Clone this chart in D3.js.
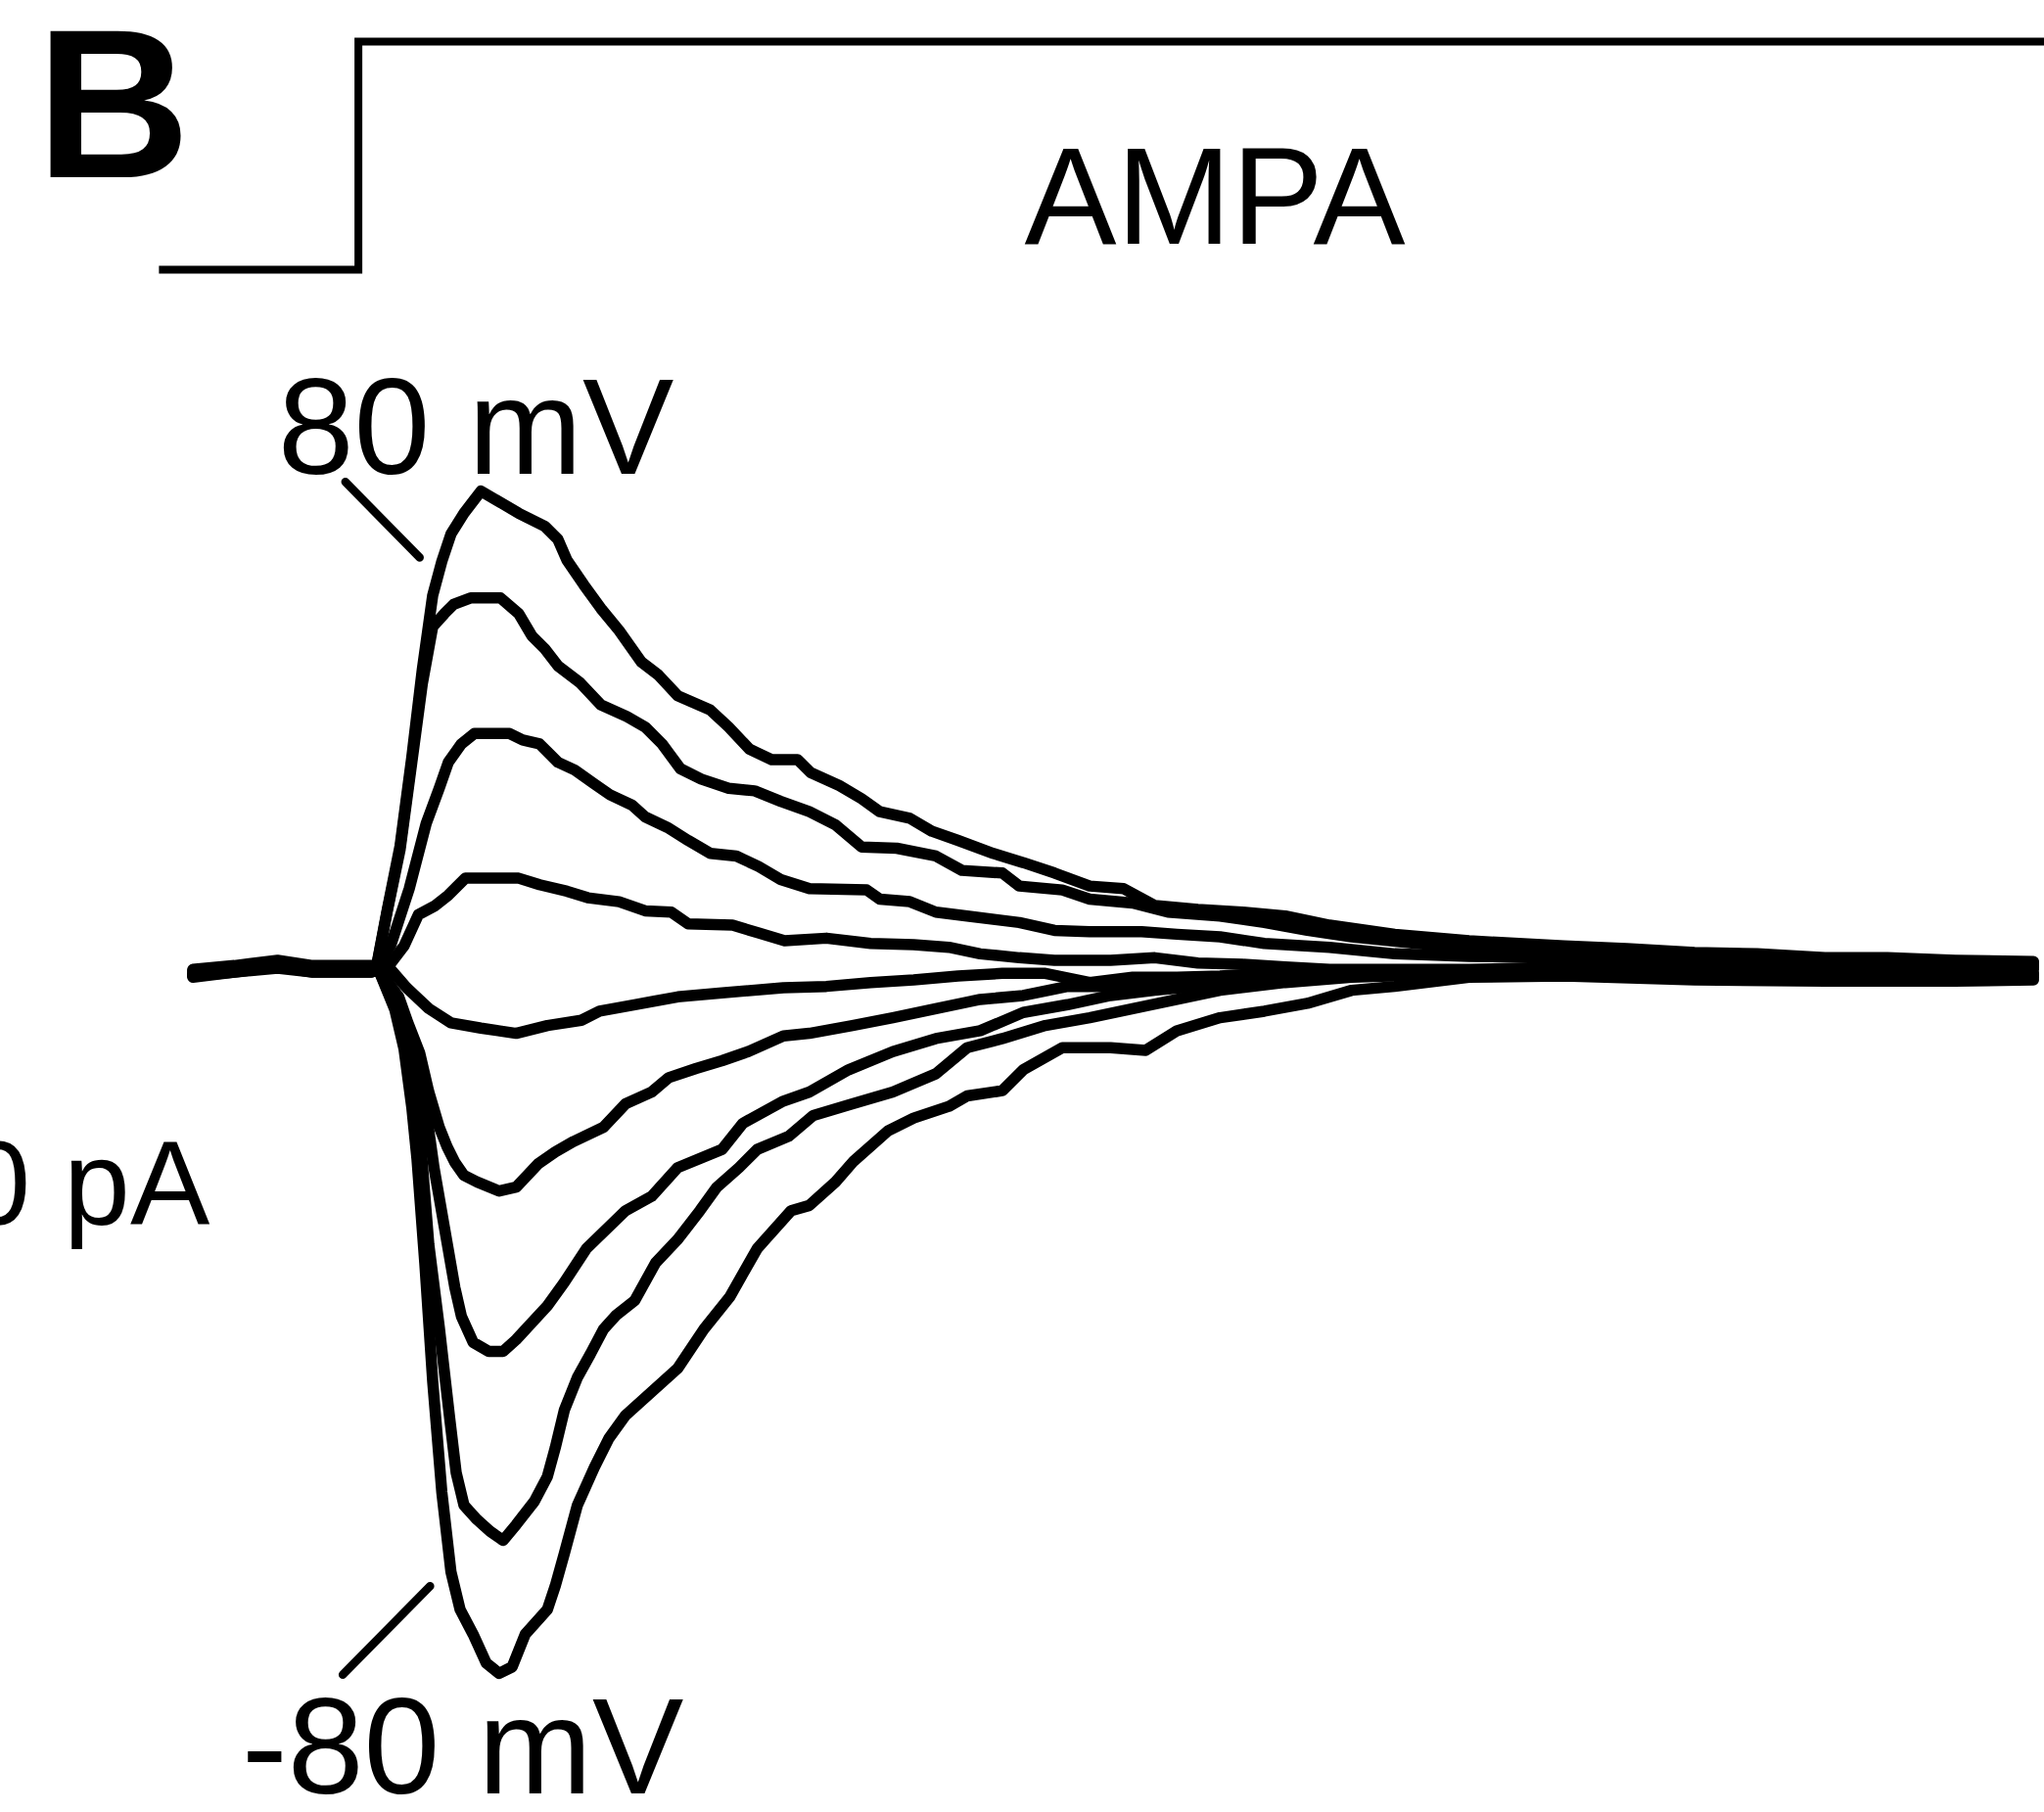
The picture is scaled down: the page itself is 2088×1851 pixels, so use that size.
<!DOCTYPE html>
<html>
<head>
<meta charset="utf-8">
<script src="https://cdn.jsdelivr.net/npm/d3@7"></script>
<style>
  html, body { margin: 0; padding: 0; background: #fff; }
  svg { display: block; }
  text { font-family: "Liberation Sans", Arial, Helvetica, sans-serif; fill: #000; }
</style>
</head>
<body>
<div id="svgDiv"></div>
<script>
////// DATA ////////
// holding potentials of the traces (mV), top to bottom
var voltages = [80, 60, 40, 20, 0, -20, -40, -60, -80];

// currents: [time (ms), current (pA)]
var trace80 = [[0,-1],[3.2,2],[6.5,6],[9.2,2],[13.7,2],[14.1,2],[14.9,44],[15.9,94],[16.8,162],[17.6,229],[18.4,286],[19.1,312],[19.8,333],[20.8,349],[22.1,366],[23.3,359],[25,349],[27,339],[28,329],[28.7,313],[30,294],[31.3,276],[32.7,259],[34.4,235],[35.7,225],[37.2,209],[39.7,198],[41.1,185],[42.7,168],[44.4,160],[46.4,160],[47.4,150],[49.6,140],[51.3,130],[52.7,120],[55,115],[56.7,105],[58.7,98],[61.4,88],[63.7,81],[66.1,73],[68.8,63],[71.4,61],[73.8,48],[77.1,45],[80.5,43],[83.8,40],[87.2,33],[92.2,26],[97.9,21],[105.2,17],[110,15],[115.2,12],[120,11],[125.2,8],[130,8],[135.2,6],[141.2,5]];
var trace60 = [[0,-2],[3.2,1],[6.5,5],[9.2,1],[13.7,1],[14.1,1],[14.9,43],[15.9,91],[16.8,158],[17.6,218],[18.4,262],[19.3,272],[20,279],[21.3,284],[23.6,284],[25,272],[26,255],[27,245],[28,232],[29.7,219],[31.3,202],[33.3,193],[34.7,185],[36,172],[37.4,153],[39,145],[41.1,138],[43.1,136],[45.1,128],[47.3,120],[49.3,110],[51.3,93],[54,92],[57,86],[59,75],[62.1,73],[63.4,63],[66.7,60],[68.8,53],[72.1,50],[74.8,43],[78.8,40],[82.2,35],[85.5,29],[88.9,24],[93.9,19],[97.9,16],[105.2,14],[115.2,10],[125.2,6],[135.2,5],[141.2,4]];
var trace40 = [[0,-3],[3.2,0],[6.5,4],[9.2,0],[13.7,0],[14.1,1],[15.2,18],[16.6,61],[17.9,111],[18.9,138],[19.6,158],[20.6,172],[21.6,180],[24.3,180],[25.3,175],[26.6,172],[28,158],[29.3,152],[30.7,142],[32,133],[33.7,125],[34.7,116],[36.4,108],[38,98],[39.7,88],[41.7,86],[43.4,78],[45.1,68],[47.3,61],[51.7,60],[52.7,53],[55,51],[57,43],[59.4,40],[63.4,35],[66.1,29],[68.8,28],[72.8,28],[75.5,26],[78.8,24],[82.2,19],[87.2,16],[92.2,11],[97.9,9],[105.2,8],[115.2,6],[125.2,4],[135.2,3],[141.2,2]];
var trace20 = [[0,-4],[3.2,0],[6.5,3],[9.2,0],[13.7,0],[14.2,1],[15.2,4],[16.2,17],[17.3,41],[18.6,48],[19.6,56],[20.9,69],[23.3,69],[25,69],[26.6,64],[28.7,59],[30.3,54],[32.7,51],[34.7,44],[36.7,43],[38,34],[41.4,33],[43.4,27],[45.4,21],[48.6,23],[52,19],[55.3,18],[58,16],[60.4,11],[63.4,8],[66.1,6],[70.4,6],[73.8,8],[77.1,4],[80.5,3],[83.8,1],[87.2,-1],[97.9,-1],[105.2,1],[115.2,2],[125.2,1],[135.2,2],[141.2,1]];
var trace0 = [[0,-5],[3.2,-1],[6.5,3],[9.2,-1],[13.7,-1],[14.2,0],[15.1,0],[16.4,-15],[18.1,-31],[19.8,-42],[22.1,-46],[24.8,-50],[27.2,-44],[29.8,-40],[31.2,-33],[33.9,-28],[37.2,-22],[40.6,-19],[45.3,-15],[48.6,-14],[52,-11],[55.3,-9],[58.7,-6],[62.1,-4],[65.4,-4],[68.8,-11],[72.1,-7],[75.5,-7],[78.8,-6],[82.2,-4],[87.2,-4],[97.9,-2],[105.2,-2],[115.2,-1],[125.2,-2],[135.2,0],[141.2,-1]];
var traceM20 = [[0,-5],[3.2,-2],[6.5,2],[9.2,-2],[13.7,-2],[14.2,0],[15.8,-22],[16.5,-42],[17.4,-65],[18.1,-95],[18.9,-122],[19.5,-137],[20.1,-149],[20.8,-159],[21.8,-164],[23.5,-171],[24.8,-168],[26.5,-150],[27.8,-141],[29.2,-133],[31.5,-122],[33.2,-104],[35.2,-95],[36.5,-84],[38.6,-77],[40.6,-71],[42.6,-64],[45.3,-52],[47.3,-50],[50.6,-44],[53.7,-38],[57,-31],[60.4,-24],[63.7,-21],[67.1,-14],[70.4,-14],[73.8,-12],[77.1,-14],[80.5,-11],[83.8,-7],[87.2,-6],[92.2,-4],[97.9,-2],[105.2,-2],[115.2,-3],[125.2,-4],[135.2,-3],[141.2,-4]];
var traceM40 = [[0,-6],[3.2,-2],[6.5,1],[9.2,-2],[13.7,-2],[14.2,0],[15.7,-29],[16.4,-52],[17,-65],[17.8,-103],[18.5,-153],[19.3,-199],[20.1,-245],[20.6,-267],[21.5,-287],[22.7,-294],[23.8,-294],[24.8,-285],[27.2,-259],[28.5,-241],[30.2,-215],[33.2,-186],[35.2,-175],[37.2,-153],[40.6,-139],[42.2,-119],[45.3,-102],[47.3,-95],[50.3,-78],[53.7,-64],[57,-54],[60.4,-48],[63.7,-34],[67.1,-28],[70.4,-21],[73.8,-17],[77.1,-14],[82.2,-9],[87.2,-7],[97.9,-4],[105.2,-3],[115.2,-5],[125.2,-6],[135.2,-6],[141.2,-5]];
var traceM60 = [[0,-6],[3.2,-3],[6.5,1],[9.2,-3],[13.7,-3],[14.2,0],[15.6,-32],[16.3,-57],[16.9,-87],[17.5,-137],[18.1,-212],[18.9,-275],[19.7,-345],[20.2,-387],[20.8,-412],[21.8,-423],[22.8,-432],[23.8,-439],[24.8,-427],[26.2,-409],[27.2,-390],[27.8,-368],[28.5,-339],[29.5,-314],[30.5,-296],[31.5,-277],[32.5,-266],[33.9,-255],[35.5,-226],[37.2,-208],[38.9,-186],[40.2,-168],[41.9,-153],[43.3,-139],[45.7,-129],[47.6,-113],[50.3,-105],[53.7,-95],[57,-81],[59.4,-61],[62.1,-54],[65.4,-44],[68.8,-38],[72.1,-31],[75.5,-24],[78.8,-17],[83.8,-11],[88.9,-7],[97.9,-4],[105.2,-4],[115.2,-6],[125.2,-8],[135.2,-8],[141.2,-7]];
var traceM80 = [[0,-7],[3.2,-3],[6.5,0],[9.2,-3],[13.7,-3],[14.2,0],[15.5,-32],[16.2,-62],[16.8,-107],[17.2,-147],[17.8,-227],[18.4,-317],[19.1,-402],[19.8,-463],[20.5,-492],[21.5,-511],[22.5,-533],[23.5,-541],[24.5,-536],[25.5,-511],[27.2,-492],[27.8,-474],[28.5,-449],[29.5,-412],[30.8,-383],[31.9,-361],[33.2,-343],[35.2,-325],[37.2,-307],[39.2,-277],[41.2,-252],[43.3,-215],[45.9,-186],[47.3,-182],[49.3,-164],[50.7,-148],[53.3,-125],[55.3,-115],[58,-106],[59.4,-98],[62.1,-94],[63.7,-78],[66.7,-61],[70.4,-61],[73.1,-63],[75.5,-48],[78.8,-38],[82.2,-33],[85.5,-27],[88.9,-17],[92.2,-14],[97.9,-7],[105.2,-6],[115.2,-9],[125.2,-10],[135.2,-10],[141.2,-9]];

var traces = [trace80, trace60, trace40, trace20, trace0, traceM20, traceM40, traceM60, traceM80];

// AMPA application step: [time (ms), level (0 off, 1 on)]
var stepTimes = [-2.6, 12.7, 12.7, 143];
var stepLevels = [0, 0, 1, 1];

// label ends for the 80 / -80 mV traces: [time, current]
var tick80 = [[11.7, 373], [17.4, 315]];
var tickM80 = [[18.2, -474], [11.5, -542]];
///////////////////////

var w = 2088;
var h = 1851;

var svg = d3.select("#svgDiv")
  .append("svg")
  .attr("width", w)
  .attr("height", h);

svg.append("rect").attr("width", w).attr("height", h).attr("fill", "#fff");

// 1 ms = 13.316 px, 1 pA = 1.3316 px, baseline at y=989
var k = 1.3316;
var xScale = d3.scaleLinear().domain([0, 141.2]).range([197, 197 + 141.2 * 10 * k]);
var yScale = d3.scaleLinear().domain([-650, 750]).range([989 + 650 * k, 989 - 750 * k]);
var stepScale = d3.scaleLinear().domain([0, 1]).range([275.6, 42.6]);

var line = d3.line()
  .x(function (d) { return xScale(d[0]); })
  .y(function (d) { return yScale(d[1]); })
  .curve(d3.curveLinear);

// current traces
svg.append("g")
  .selectAll("path")
  .data(traces)
  .enter()
  .append("path")
  .attr("class", function (d, i) { return "trace v" + voltages[i]; })
  .attr("d", line)
  .attr("fill", "none")
  .attr("stroke", "#000")
  .attr("stroke-width", 11.5)
  .attr("stroke-linejoin", "round")
  .attr("stroke-linecap", "round");

// application step on top
var stepLine = d3.line()
  .x(function (d) { return xScale(d[0]); })
  .y(function (d) { return stepScale(d[1]); });

svg.append("path")
  .attr("d", stepLine(d3.zip(stepTimes, stepLevels)))
  .attr("fill", "none")
  .attr("stroke", "#000")
  .attr("stroke-width", 8)
  .attr("stroke-linejoin", "miter");

svg.append("text")
  .attr("x", xScale(78.4))
  .attr("y", 249)
  .attr("text-anchor", "middle")
  .style("font-size", "141px")
  .text("AMPA");

// panel letter
svg.append("text")
  .attr("x", 37)
  .attr("y", 181)
  .style("font-size", "218px")
  .style("font-weight", "bold")
  .text("B");

// trace labels with their pointer lines
[tick80, tickM80].forEach(function (t) {
  svg.append("line")
    .attr("x1", xScale(t[0][0])).attr("y1", yScale(t[0][1]))
    .attr("x2", xScale(t[1][0])).attr("y2", yScale(t[1][1]))
    .attr("stroke", "#000")
    .attr("stroke-width", 8.5)
    .attr("stroke-linecap", "round");
});

svg.append("text")
  .attr("x", xScale(21.7))
  .attr("y", yScale(379))
  .attr("text-anchor", "middle")
  .style("font-size", "140px")
  .text(voltages[0] + " mV");

svg.append("text")
  .attr("x", xScale(20.7))
  .attr("y", yScale(-633))
  .attr("text-anchor", "middle")
  .style("font-size", "140px")
  .text(voltages[voltages.length - 1] + " mV");

// scale bar label, cut by the left edge
svg.append("text")
  .attr("x", xScale(1.3))
  .attr("y", yScale(-197))
  .attr("text-anchor", "end")
  .style("font-size", "122px")
  .text("100 pA");
</script>
</body>
</html>
